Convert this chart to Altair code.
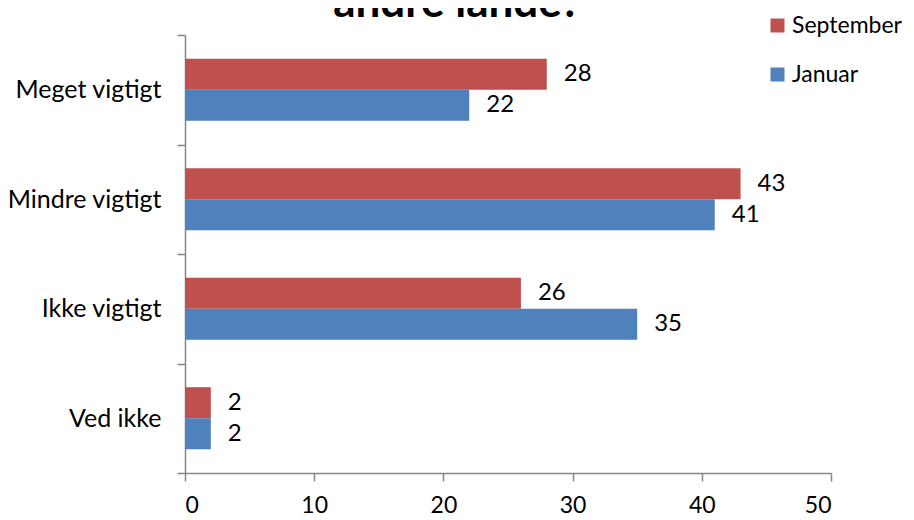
import altair as alt
import pandas as pd

categories = ["Meget vigtigt", "Mindre vigtigt", "Ikke vigtigt", "Ved ikke"]
series = ["September", "Januar"]
september = [28, 43, 26, 2]
januar = [22, 41, 35, 2]
colors = ["#C0504D", "#4F81BD"]
title_text = "andre lande?"

rows = []
for c, s, j in zip(categories, september, januar):
    rows.append({"kategori": c, "serie": "September", "værdi": s})
    rows.append({"kategori": c, "serie": "Januar", "værdi": j})
df = pd.DataFrame(rows)

FONT = "Lato"
AX = "#868686"

y_enc = alt.Y(
    "kategori:N",
    sort=categories,
    scale=alt.Scale(paddingInner=0, paddingOuter=0),
    axis=alt.Axis(
        title=None, tickBand="extent", tickSize=8, labelPadding=16,
        labelFontSize=25, labelFont=FONT, labelColor="#000000",
        domainColor=AX, tickColor=AX, domainWidth=1.5, tickWidth=1.5,
    ),
)
yoff = alt.YOffset("serie:N", sort=series,
                   scale=alt.Scale(paddingInner=0, paddingOuter=0.765))
x_enc = alt.X(
    "værdi:Q",
    scale=alt.Scale(domain=[0, 50], nice=False),
    axis=alt.Axis(
        title=None, values=[0, 10, 20, 30, 40, 50], grid=False, tickSize=8,
        labelPadding=13, labelFontSize=23, labelFont=FONT, labelColor="#000000",
        domainColor=AX, tickColor=AX, domainWidth=1.5, tickWidth=1.5,
    ),
)

base = alt.Chart(df)

bars = base.mark_bar().encode(
    x=x_enc,
    y=y_enc,
    yOffset=yoff,
    color=alt.Color(
        "serie:N",
        sort=series,
        scale=alt.Scale(domain=series, range=colors),
        legend=alt.Legend(
            title=None, orient="none", legendX=581, legendY=-21,
            symbolType="square", symbolSize=196, symbolStrokeWidth=0,
            labelFontSize=23, labelFont=FONT, labelColor="#000000",
            labelOffset=3, rowPadding=25, padding=0,
        ),
    ),
)

labels = base.mark_text(
    align="left", baseline="middle", dx=17, fontSize=24, font=FONT, color="#000000"
).encode(
    x=alt.X("værdi:Q"),
    y=alt.Y("kategori:N", sort=categories),
    yOffset=yoff,
    text=alt.Text("værdi:Q"),
)

title = alt.Chart(pd.DataFrame({"t": [title_text]})).mark_text(
    align="center", baseline="alphabetic", fontSize=44, font=FONT,
    fontWeight="bold", color="#000000"
).encode(x=alt.value(272), y=alt.value(-18), text="t:N")

chart = alt.layer(bars, labels, title).properties(
    width=646,
    height=438,
    autosize=alt.AutoSizeParams(type="none"),
    padding={"left": 177, "top": 27, "right": 73, "bottom": 44},
).configure_view(stroke=None)

chart.save("out.html", embed_options={"renderer": "svg", "actions": False})
